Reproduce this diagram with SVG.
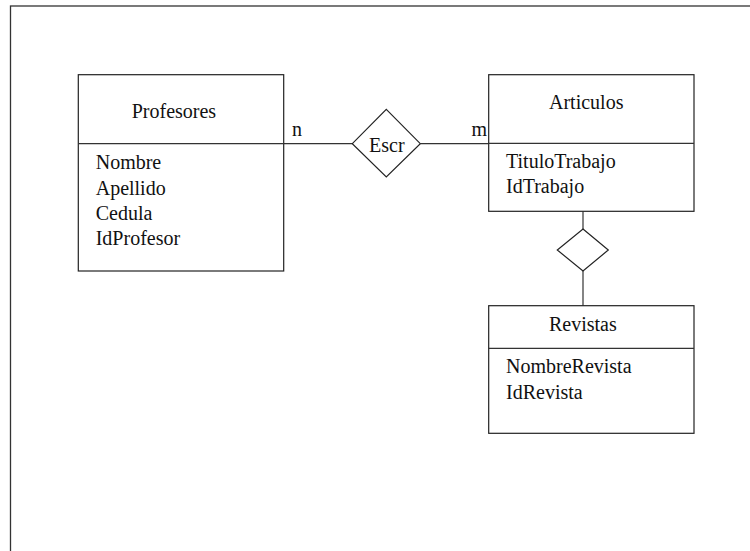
<svg xmlns="http://www.w3.org/2000/svg" width="750" height="551" viewBox="0 0 750 551">
  <style>
    .box { fill: #ffffff; stroke: #222222; stroke-width: 1.2; }
    .edge { fill: none; stroke: #333333; stroke-width: 1.2; }
    .rel { fill: #ffffff; stroke: #222222; stroke-width: 1.2; }
    text { font-family: "Liberation Serif", "Times New Roman", serif; font-size: 20px; fill: #111111; }
  </style>
  <rect width="750" height="551" fill="#ffffff"/>
  <!-- page frame -->
  <rect x="10.5" y="6" width="760" height="560" fill="none" stroke="#333333" stroke-width="1.3"/>

  <g id="connectors">
    <line class="edge" x1="283.7" y1="143.7" x2="352.3" y2="143.7"/>
    <line class="edge" x1="420.3" y1="143.7" x2="488.7" y2="143.7"/>
    <line class="edge" x1="583" y1="211.3" x2="583" y2="229"/>
    <line class="edge" x1="583" y1="271" x2="583" y2="305.7"/>
    <text x="292" y="135.7">n</text>
    <text x="471.5" y="135.7">m</text>
  </g>

  <g id="profesores">
    <rect class="box" x="78.3" y="74.7" width="205.4" height="196.3"/>
    <line class="edge" x1="78.3" y1="143.7" x2="283.7" y2="143.7"/>
    <text x="131.7" y="118.3">Profesores</text>
    <text x="95.7" y="169.3">Nombre</text>
    <text x="95.7" y="194.5">Apellido</text>
    <text x="95.7" y="220">Cedula</text>
    <text x="95.7" y="245.3">IdProfesor</text>
  </g>

  <g id="escr">
    <polygon class="rel" points="386.3,109.3 420.3,143.7 386.3,177 352.3,143.7"/>
    <text x="369" y="151.7">Escr</text>
  </g>

  <g id="articulos">
    <rect class="box" x="488.7" y="74.7" width="205.3" height="136.6"/>
    <line class="edge" x1="488.7" y1="143.3" x2="694" y2="143.3"/>
    <text x="549" y="109.3">Articulos</text>
    <text x="506" y="167.8">TituloTrabajo</text>
    <text x="506" y="192.8">IdTrabajo</text>
  </g>

  <g id="publica">
    <polygon class="rel" points="583,229 608.3,250 583,271 557.3,250"/>
  </g>

  <g id="revistas">
    <rect class="box" x="488.7" y="305.7" width="205.3" height="127.6"/>
    <line class="edge" x1="488.7" y1="348.3" x2="694" y2="348.3"/>
    <text x="549" y="330.7">Revistas</text>
    <text x="506" y="373.3">NombreRevista</text>
    <text x="506" y="399.3">IdRevista</text>
  </g>
</svg>
